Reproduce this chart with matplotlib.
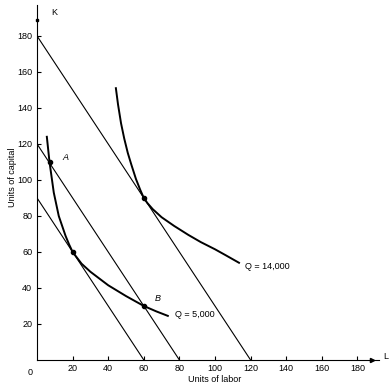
import matplotlib
matplotlib.use("Agg")
import matplotlib.pyplot as plt

plt.rcParams['font.family'] = ['Liberation Sans', 'DejaVu Sans']

# isocost lines: (K intercept, L intercept)
isocost_k = [180, 120, 90]
isocost_l = [120, 80, 60]

# isoquant Q = 5,000
q5_L = [5.5, 7, 9.4, 12.2, 16, 18, 20, 25, 30, 40, 50, 60, 67, 73.5]
q5_K = [124, 110, 93, 80, 69, 64.2, 60, 53.5, 49, 41.5, 35.5, 30, 27, 24.5]

# isoquant Q = 14,000
q14_L = [44.3, 45.5, 47.2, 49, 51, 53, 55.6, 58, 60, 62, 65, 70, 77, 85, 92, 100, 106, 113.5]
q14_K = [151, 142, 131.5, 123, 115, 108.5, 100.5, 94.5, 90, 87.2, 83.8, 79.3, 74.5, 69.5, 65.5, 61.5, 58.2, 54]

# marked points
pt_L = [7, 20, 60, 60]
pt_K = [110, 60, 90, 30]

ticks = [20, 40, 60, 80, 100, 120, 140, 160, 180]

fig = plt.figure(figsize=(3.9, 3.85), dpi=100)
ax = fig.add_axes([0.095, 0.065, 0.876, 0.921])

for k0, l0 in zip(isocost_k, isocost_l):
    ax.plot([0, l0], [k0, 0], color="black", lw=0.8)

ax.plot(q5_L, q5_K, color="black", lw=1.4)
ax.plot(q14_L, q14_K, color="black", lw=1.4)
ax.plot(pt_L, pt_K, "o", color="black", ms=3)

ax.text(14, 111, "A", fontsize=6.5, style="italic")
ax.text(66, 33, "B", fontsize=6.5, style="italic")
ax.text(77.5, 25, "Q = 5,000", fontsize=6.5, va="center")
ax.text(117, 52, "Q = 14,000", fontsize=6.5, va="center")

ax.set_xlim(0, 192)
ax.set_ylim(0, 197)
ax.spines["top"].set_visible(False)
ax.spines["right"].set_visible(False)
ax.set_xticks(ticks)
ax.set_yticks(ticks)
ax.tick_params(direction="in", length=3, labelsize=6.5, width=0.8)
ax.tick_params(axis="x", pad=3)

# axis ends
ax.plot([0], [189], "s", color="black", ms=2, clip_on=False)
ax.plot([188], [0], ">", color="black", ms=3, clip_on=False)
ax.text(8, 193, "K", fontsize=6.5, va="center")
ax.text(194.5, 2, "L", fontsize=6.5, va="center", clip_on=False)
ax.text(-4, -7, "0", fontsize=6.5, ha="center", va="center", clip_on=False)

fig.text(0.55, 0.002, "Units of labor", fontsize=6.5, ha="center", va="bottom")
fig.text(0.02, 0.54, "Units of capital", fontsize=6.5, ha="left", va="center", rotation=90)

fig.savefig("out.png", dpi=100)
